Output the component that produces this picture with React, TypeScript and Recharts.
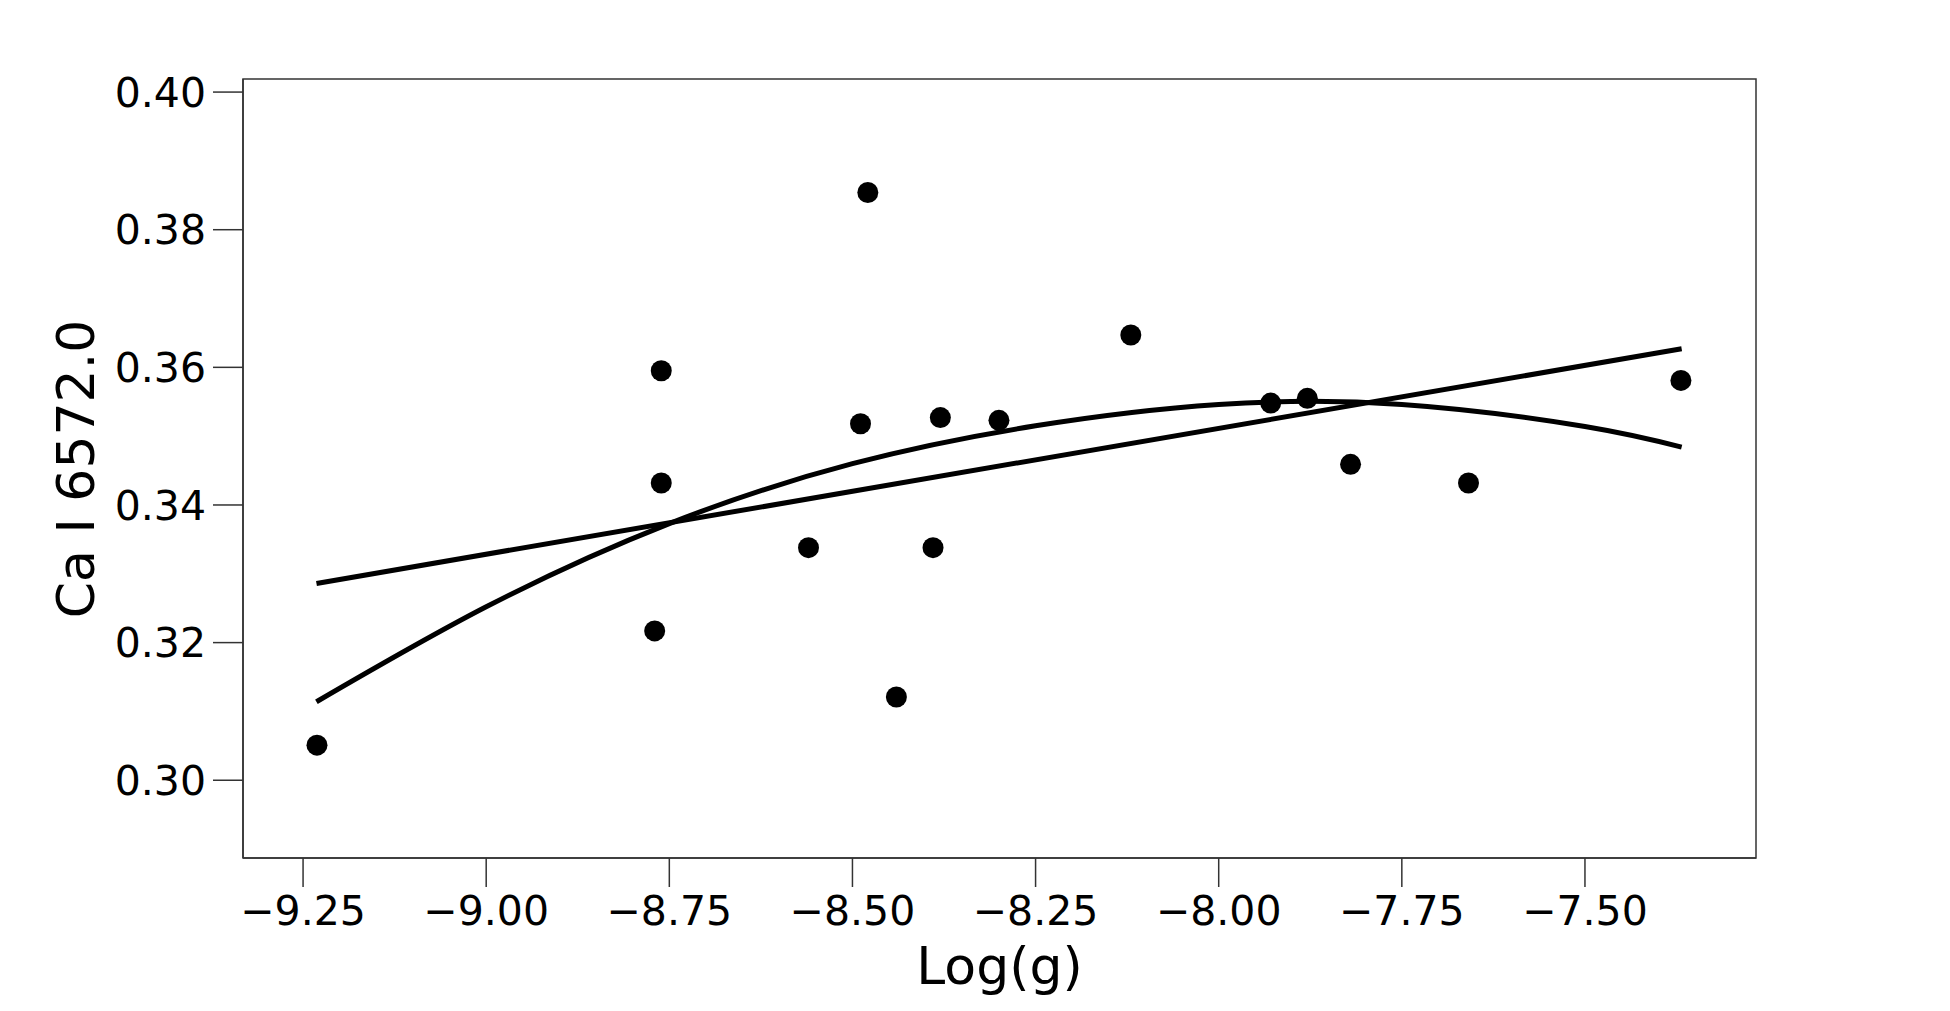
import React from "react"
import {
  ComposedChart,
  Scatter,
  Line,
  XAxis,
  YAxis,
  ReferenceArea,
  Label,
} from "recharts"

// measured points: log(g) vs Ca I 6572.0
const logG = [
  -9.231, -8.77, -8.761, -8.761, -8.56, -8.489, -8.479, -8.44, -8.39,
  -8.38, -8.3, -8.12, -7.929, -7.879, -7.82, -7.659, -7.369,
]
const caI = [
  0.3051, 0.3217, 0.3595, 0.3432, 0.3338, 0.3518, 0.3854, 0.3121, 0.3338,
  0.3527, 0.3523, 0.3647, 0.3548, 0.3555, 0.3459, 0.3432, 0.3581,
]

// linear fit line
const linX = [-9.2317, -7.368]
const linY = [0.3286, 0.3627]

// quadratic fit curve
const quadX = [-9.2317, -9.0, -8.75, -8.5, -8.25, -8.0, -7.75, -7.5, -7.368]
const quadY = [0.3114, 0.3252, 0.3373, 0.3460, 0.3515, 0.3546, 0.3546, 0.3514, 0.3484]

const xTicks = [-9.25, -9.0, -8.75, -8.5, -8.25, -8.0, -7.75, -7.5]
const yTicks = [0.3, 0.32, 0.34, 0.36, 0.38, 0.4]
const xDomain = [-9.332, -7.2665]
const yDomain = [0.2887, 0.4019]

const points = logG.map((x, i) => ({ x, y: caI[i] }))
const linData = linX.map((x, i) => ({ x, y: linY[i] }))
const quadData = quadX.map((x, i) => ({ x, y: quadY[i] }))

const FONT = "'DejaVu Sans', sans-serif"
const AXIS = "#333"

const fmtX = (v: number) => v.toFixed(2).replace("-", "\u2212")
const fmtY = (v: number) => v.toFixed(2)

const Dot = (props: any) => {
  const { cx, cy } = props
  if (cx == null || cy == null) return null
  return <circle cx={cx} cy={cy} r={10.5} fill="#000" />
}

const YTitle = () => (
  <text
    x={68}
    y={461}
    transform="rotate(-90 68 461)"
    textAnchor="middle"
    dominantBaseline="central"
    fontSize={52}
    fontFamily={FONT}
    fill="#000"
  >
    Ca I 6572.0
  </text>
)

export default function App() {
  return (
    <div style={{ width: 1934, height: 995, fontFamily: FONT, background: "#fff" }}>
      <ComposedChart
        width={1934}
        height={995}
        margin={{ top: 71, right: 186, bottom: 0, left: 0 }}
      >
        <XAxis
          type="number"
          dataKey="x"
          domain={xDomain}
          ticks={xTicks}
          allowDataOverflow
          tickFormatter={fmtX}
          height={145}
          tickSize={29}
          tickMargin={9}
          stroke={AXIS}
          strokeWidth={1.5}
          tick={{ fill: "#000", fontSize: 41, fontFamily: FONT }}
        >
          <Label
            value="Log(g)"
            position="insideBottom"
            offset={19}
            style={{ fontSize: 52, fontFamily: FONT, fill: "#000" }}
          />
        </XAxis>
        <YAxis
          type="number"
          domain={yDomain}
          ticks={yTicks}
          allowDataOverflow
          tickFormatter={fmtY}
          width={235}
          tickSize={30}
          tickMargin={7}
          stroke={AXIS}
          strokeWidth={1.5}
          tick={{ fill: "#000", fontSize: 41, fontFamily: FONT }}
          label={<YTitle />}
        />
        <ReferenceArea
          x1={xDomain[0]}
          x2={xDomain[1]}
          y1={yDomain[0]}
          y2={yDomain[1]}
          fill="none"
          stroke={AXIS}
          strokeWidth={1.5}
          ifOverflow="visible"
        />
        <Line
          data={linData}
          dataKey="y"
          type="linear"
          stroke="#000"
          strokeWidth={5}
          dot={false}
          activeDot={false}
          isAnimationActive={false}
        />
        <Line
          data={quadData}
          dataKey="y"
          type="natural"
          stroke="#000"
          strokeWidth={5}
          dot={false}
          activeDot={false}
          isAnimationActive={false}
        />
        <Scatter
          data={points}
          dataKey="y"
          shape={<Dot />}
          isAnimationActive={false}
        />
      </ComposedChart>
    </div>
  )
}
